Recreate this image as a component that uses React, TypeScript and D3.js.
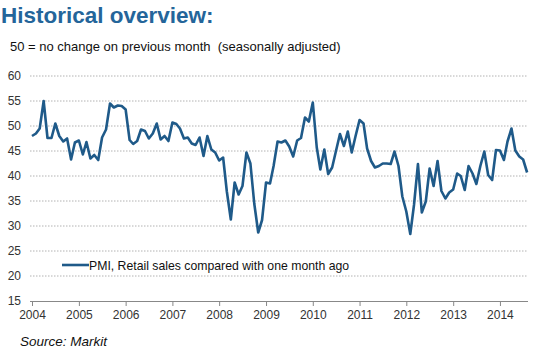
import React, { useEffect, useRef } from 'react';
import * as d3 from 'd3';

// monthly retail PMI readings, Jan 2004 onwards
const startYear = 2004;
const pmiValues: number[] = [
  48, 48.5, 49.5, 55, 47.6, 47.6, 50.5, 48, 46.9, 47.5, 43.3, 46.7,
  47.1, 44.3, 46.8, 43.5, 44.2, 43.2, 47.7, 49.3, 54.5, 53.7, 54.1, 54,
  53.3, 47.2, 46.4, 47, 49.3, 49, 47.5, 48.5, 50.5, 47.3, 48, 47,
  50.7, 50.4, 49.5, 47.5, 47.7, 46.5, 46.2, 47.7, 44, 48, 45.3, 44.7,
  43.1, 43.7, 36.9, 31.3, 38.7, 36.3, 38, 44.7, 42.5, 34.5, 28.7, 31.2,
  38.7, 38.5, 42, 46.9, 46.7, 47.1, 45.9, 43.9, 47.1, 47.6, 51.7, 50.9,
  54.7, 45.7, 41.3, 45.3, 40.4, 41.7, 45, 48.4, 46, 48.9, 44.7, 48,
  51.2, 50.5, 45.5, 43, 41.7, 42, 42.5, 42.5, 42.4, 44.9, 42, 35.9,
  32.9, 28.4, 34.2, 42.4, 32.7, 34.9, 41.5, 38, 43, 37, 35.5, 36.7,
  37.3, 40.5, 40, 37.2, 42, 40.5, 38.4, 42, 44.9, 40.2, 39.2, 45.2,
  45.1, 43.2, 46.9, 49.5, 45.1, 43.9, 43.3, 40.7,
];
const yTicks = [15, 20, 25, 30, 35, 40, 45, 50, 55, 60];
const yearTicks = [2004, 2005, 2006, 2007, 2008, 2009, 2010, 2011, 2012, 2013, 2014];
const seriesName = 'PMI, Retail sales compared with one month ago';

const W = 533;
const H = 350;
const lineColor = '#1f5a89';

const App: React.FC = () => {
  const svgRef = useRef<SVGSVGElement>(null);

  useEffect(() => {
    if (!svgRef.current) return;
    const svg = d3.select(svgRef.current);
    svg.selectAll('*').remove();

    const font = '"Liberation Sans", Arial, sans-serif';
    const data = pmiValues.map((v, i) => ({ date: new Date(startYear, i, 1), value: v }));

    const x = d3.scaleTime()
      .domain([new Date(2004, 0, 1), new Date(2014, 7, 8)])
      .range([32, 528]);
    const y = d3.scaleLinear().domain([15, 60]).range([301, 76]);

    // title + subtitle
    svg.append('text')
      .attr('x', 1).attr('y', 23)
      .attr('font-family', font).attr('font-size', 22.5).attr('font-weight', 'bold')
      .attr('fill', '#24659a')
      .text('Historical overview:');
    svg.append('text')
      .attr('x', 10).attr('y', 51)
      .attr('font-family', font).attr('font-size', 13)
      .attr('fill', '#111')
      .attr('xml:space', 'preserve')
      .text('50 = no change on previous month  (seasonally adjusted)');

    // gridlines
    svg.append('g')
      .selectAll('line')
      .data(yTicks.filter(t => t !== 15))
      .join('line')
      .attr('x1', 30).attr('x2', 528)
      .attr('y1', d => y(d)).attr('y2', d => y(d))
      .attr('stroke', '#a0a0a0')
      .attr('stroke-width', 0.8)
      .attr('stroke-dasharray', '1.5,1.5');

    // y labels
    svg.append('g')
      .selectAll('text')
      .data(yTicks)
      .join('text')
      .attr('x', 21).attr('y', d => y(d) + 4)
      .attr('text-anchor', 'end')
      .attr('font-family', font).attr('font-size', 12)
      .attr('fill', '#333')
      .text(d => d);

    // x axis
    const xAxis = d3.axisBottom(x)
      .tickValues(yearTicks.map(yr => new Date(yr, 0, 1)))
      .tickSize(5)
      .tickSizeOuter(0)
      .tickFormat(d => d3.timeFormat('%Y')(d as Date));
    const gx = svg.append('g').attr('transform', 'translate(0,301)').call(xAxis);
    gx.select('.domain').attr('stroke', '#888').attr('d', 'M30,0.5H528');
    gx.selectAll('.tick line').attr('stroke', '#888');
    gx.selectAll('.tick text')
      .attr('font-family', font).attr('font-size', 12)
      .attr('fill', '#333').attr('dy', '0.8em');

    // series line
    const line = d3.line<{ date: Date; value: number }>()
      .x(d => x(d.date))
      .y(d => y(d.value));
    svg.append('path')
      .datum(data)
      .attr('fill', 'none')
      .attr('stroke', lineColor)
      .attr('stroke-width', 2.6)
      .attr('stroke-linejoin', 'round')
      .attr('d', line);

    // legend
    svg.append('line')
      .attr('x1', 62).attr('x2', 89).attr('y1', 265).attr('y2', 265)
      .attr('stroke', lineColor).attr('stroke-width', 2.6);
    svg.append('text')
      .attr('x', 89).attr('y', 269.5)
      .attr('font-family', font).attr('font-size', 12.25)
      .attr('fill', '#111')
      .text(seriesName);

    // source
    svg.append('text')
      .attr('x', 20).attr('y', 346)
      .attr('font-family', font).attr('font-size', 13.5).attr('font-style', 'italic')
      .attr('fill', '#111')
      .text('Source: Markit');
  }, []);

  return (
    <svg
      ref={svgRef}
      width={W}
      height={H}
      style={{ position: 'absolute', left: 0, top: 0, background: '#fff' }}
    />
  );
};

export default App;
